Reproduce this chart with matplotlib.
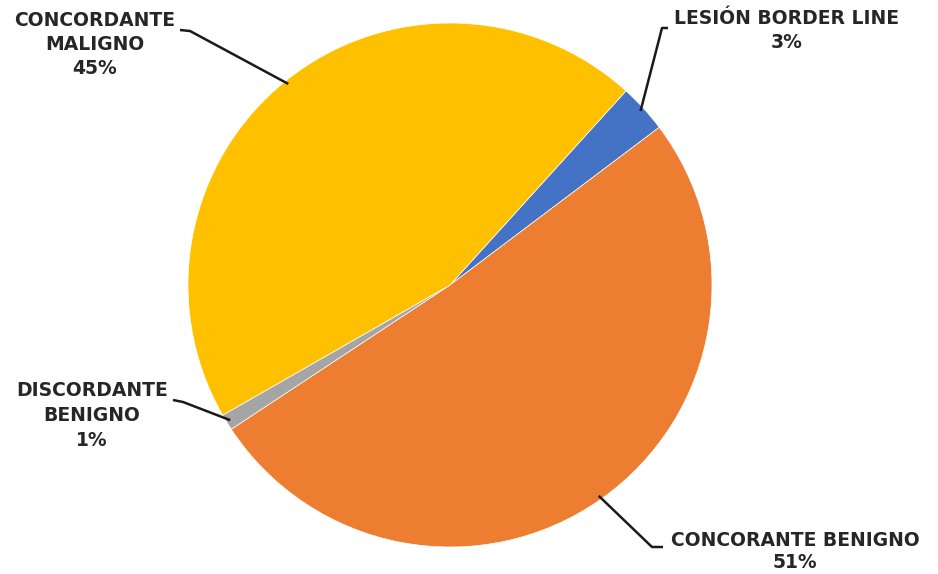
import numpy as np
import matplotlib
matplotlib.use("Agg")
import matplotlib.pyplot as plt

labels = ["LESIÓN BORDER LINE", "CONCORANTE BENIGNO", "DISCORDANTE\nBENIGNO", "CONCORDANTE\nMALIGNO"]
values = [3, 51, 1, 45]
colors = ["#4472C4", "#ED7D31", "#A5A5A5", "#FFC000"]

W, H = 938, 574
fig = plt.figure(figsize=(W / 100, H / 100), dpi=100)
ax = fig.add_axes([0, 0, 1, 1])
ax.set_aspect("equal")
ax.axis("off")

cx, cy, R = 450, H - 285, 262
wedges, _ = ax.pie(values, colors=colors, startangle=47.8, counterclock=False,
                   center=(cx, cy), radius=R,
                   wedgeprops=dict(linewidth=0.5, edgecolor="white"))
ax.set_xlim(0, W)
ax.set_ylim(0, H)

# label layout: text centre x, first line y (px from top), line step, elbow point, end of short horizontal
layout = [
    dict(tx=787, ty=18, step=24.5, elbow=(662, 28), tail=(668, 28)),
    dict(tx=795, ty=540, step=22.5, elbow=(652, 547), tail=(663, 547)),
    dict(tx=92, ty=391, step=24.5, elbow=(183, 402), tail=(173, 400)),
    dict(tx=95, ty=20, step=24.5, elbow=(190, 31), tail=(180, 30)),
]
tcolor = "#262626"
for w, lab, v, L in zip(wedges, labels, values, layout):
    mid = np.deg2rad((w.theta1 + w.theta2) / 2)
    px, py = cx + (R - 4) * np.cos(mid), cy + (R - 4) * np.sin(mid)
    ex, ey = L["elbow"]
    sx, sy = L["tail"]
    ax.plot([px, ex, sx], [py, H - ey, H - sy], color="#1a1a1a", lw=1.8,
            solid_capstyle="butt", zorder=5)
    lines = (lab + f"\n{v}%").split("\n")
    for i, line in enumerate(lines):
        ax.text(L["tx"], H - (L["ty"] + L["step"] * i), line, ha="center", va="center",
                fontsize=13.5, fontweight="bold", color=tcolor, family="DejaVu Sans")

fig.savefig("out.png", dpi=100, facecolor="white")
